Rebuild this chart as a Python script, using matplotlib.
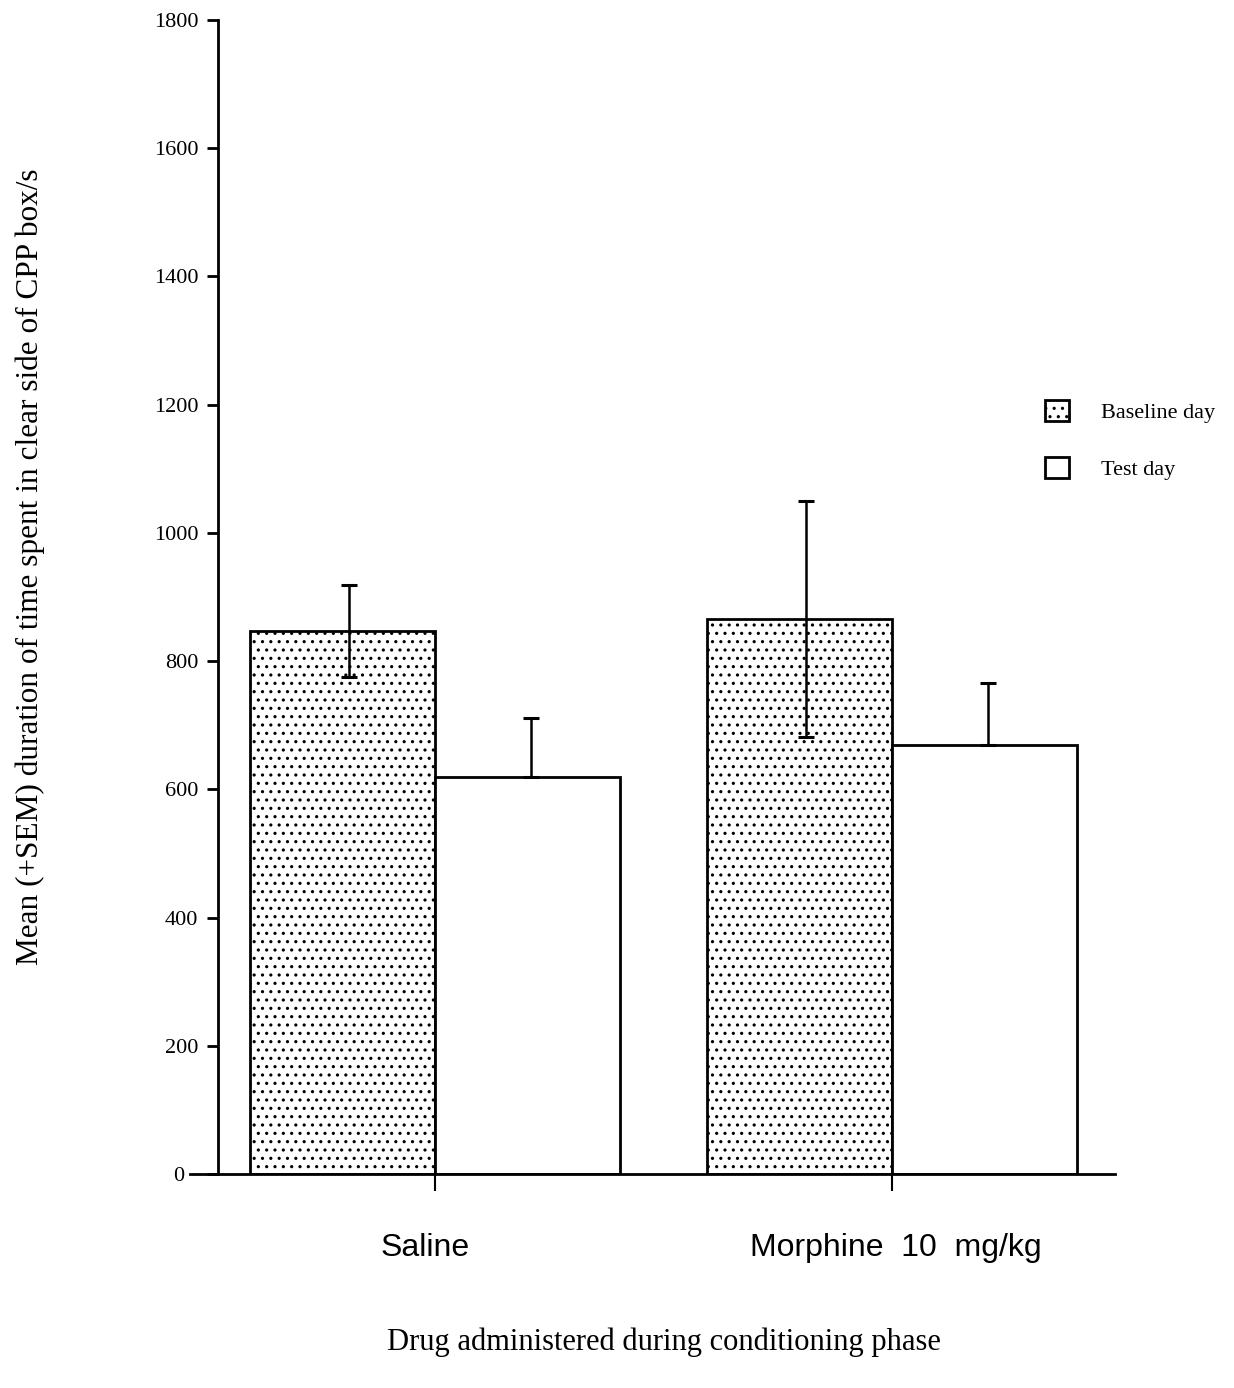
import matplotlib
matplotlib.use('Agg')
import matplotlib.pyplot as plt
import matplotlib.transforms as mtransforms
import numpy as np

# data
groups = ['Saline', 'Morphine  10  mg/kg']
baseline = [847, 866]
baseline_sem = [72, 184]
test = [619, 669]
test_sem = [92, 97]
yticks = [0, 200, 400, 600, 800, 1000, 1200, 1400, 1600, 1800]

plt.rcParams['hatch.linewidth'] = 1.1
serif = 'Liberation Serif'
sans = 'Liberation Sans'

W, H = 1234, 1388
fig = plt.figure(figsize=(W / 100, H / 100), dpi=100)
ax = fig.add_axes([190 / W, 1 - 1174 / H, (1115 - 190) / W, (1174 - 20) / H])

x = np.arange(len(groups))
w = 0.405
ax.bar(x - w / 2, baseline, w, color='white', edgecolor='black', hatch='..',
       linewidth=2, label='Baseline day', zorder=2)
ax.bar(x + w / 2, test, w, color='white', edgecolor='black',
       linewidth=2, label='Test day', zorder=2)

# error bars: baseline both ways, test upward only
ax.errorbar(x - w / 2 + 0.015, baseline, yerr=[baseline_sem, baseline_sem], fmt='none',
            ecolor='black', elinewidth=1.8, capsize=6, capthick=2.2, zorder=3)
ax.errorbar(x + w / 2 + 0.008, test, yerr=[[0, 0], test_sem], fmt='none',
            ecolor='black', elinewidth=1.8, capsize=6, capthick=2.2, zorder=3)

for s in ['top', 'right']:
    ax.spines[s].set_visible(False)
ax.spines['left'].set_position(('data', -0.475))
ax.spines['left'].set_linewidth(2)
ax.spines['bottom'].set_linewidth(2)

ax.set_xlim(-0.536, 1.488)
ax.set_ylim(0, 1800)
ax.set_yticks(yticks)
ax.set_yticklabels([str(t) for t in yticks])
ax.set_xticks(x)
ax.set_xticklabels([])
ax.tick_params(axis='y', direction='out', length=8, width=2, pad=6,
               labelsize=16, labelfontfamily=serif)
ax.tick_params(axis='x', direction='out', length=12, width=1.5)

# the zero label sits left of where the x axis starts
zero = ax.yaxis.get_major_ticks()[0].label1
zero.set_transform(zero.get_transform() +
                   mtransforms.ScaledTranslation(-0.14, 0, fig.dpi_scale_trans))

label_shift = [-0.022, 0.009]
for xi, g, dx in zip(x, groups, label_shift):
    ax.text(xi + dx, -0.064, g, transform=ax.get_xaxis_transform(),
            ha='center', va='center', fontfamily=sans, fontsize=23)

fig.text(664 / W, 1 - 1342 / H, 'Drug administered during conditioning phase',
         ha='center', va='center', fontfamily=serif, fontsize=22)
fig.text(30 / W, 1 - 567 / H,
         'Mean (+SEM) duration of time spent in clear side of CPP box/s',
         rotation=90, ha='center', va='center', fontfamily=serif, fontsize=22.5)

leg = ax.legend(loc='upper left', bbox_to_anchor=(1025 / W, 1 - 380 / H),
                bbox_transform=fig.transFigure, frameon=False,
                prop={'family': serif, 'size': 16}, handlelength=1.1,
                handleheight=1.1, labelspacing=1.5, handletextpad=1.4)

fig.savefig('out.png', dpi=100, facecolor='white')
